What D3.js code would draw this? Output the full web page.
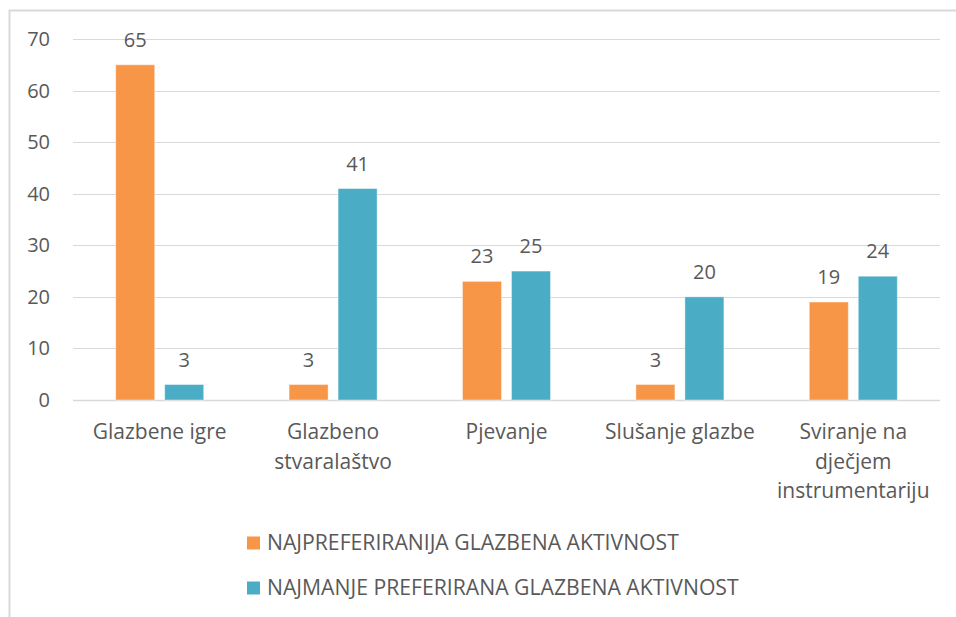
<!DOCTYPE html>
<html lang="hr">
<head>
  <meta charset="UTF-8">
  <title>Glazbene aktivnosti</title>
  <style>
    body { margin: 0; background: #fff; }
    svg text { font-family: "Open Sans", sans-serif; fill: #595959; }
  </style>
</head>
<body>
  <div id="chart"></div>

  <script src="https://d3js.org/d3.v7.min.js"></script>
  <script>
    // podaci
    const categories = [
      "Glazbene igre",
      "Glazbeno stvaralaštvo",
      "Pjevanje",
      "Slušanje glazbe",
      "Sviranje na dječjem instrumentariju"
    ];
    // prijelomi redaka kao na slici
    const categoryLines = [
      ["Glazbene igre"],
      ["Glazbeno", "stvaralaštvo"],
      ["Pjevanje"],
      ["Slušanje glazbe"],
      ["Sviranje na", "dječjem", "instrumentariju"]
    ];
    const seriesNames = [
      "NAJPREFERIRANIJA GLAZBENA AKTIVNOST",
      "NAJMANJE PREFERIRANA GLAZBENA AKTIVNOST"
    ];
    const mostPreferred = [65, 3, 23, 3, 19];
    const leastPreferred = [3, 41, 25, 20, 24];
    const yTicks = [0, 10, 20, 30, 40, 50, 60, 70];
    const colors = ["#F79646", "#4BACC6"];

    const W = 956, H = 617;
    const svg = d3.select("#chart").append("svg")
      .attr("width", W)
      .attr("height", H);

    // okvir grafikona
    svg.append("rect")
      .attr("x", 9.5).attr("y", 10.5)
      .attr("width", W + 10).attr("height", H + 10)
      .attr("fill", "none")
      .attr("stroke", "#d9d9d9")
      .attr("stroke-width", 2);

    const x0 = d3.scaleBand().domain(categories).range([73, 940]);
    const x1 = d3.scaleBand().domain([0, 1])
      .range([x0.bandwidth() / 2 - 44, x0.bandwidth() / 2 + 44])
      .paddingInner(0.204);
    const y = d3.scaleLinear().domain([0, 70]).range([400, 39]);

    // mreža
    svg.append("g").selectAll("line")
      .data(yTicks)
      .enter().append("line")
      .attr("x1", 73).attr("x2", 940)
      .attr("y1", d => Math.round(y(d)) + 0.5)
      .attr("y2", d => Math.round(y(d)) + 0.5)
      .attr("stroke", "#d9d9d9")
      .attr("stroke-width", d => d === 0 ? 1.5 : 1);

    // oznake osi Y
    svg.append("g").selectAll("text")
      .data(yTicks)
      .enter().append("text")
      .attr("x", 50)
      .attr("y", d => y(d))
      .attr("dy", "0.35em")
      .attr("text-anchor", "end")
      .style("font-size", "20px")
      .text(d => d);

    const rows = categories.map((c, i) => ({ cat: c, vals: [mostPreferred[i], leastPreferred[i]] }));

    const groups = svg.append("g").selectAll("g")
      .data(rows)
      .enter().append("g")
      .attr("transform", d => `translate(${x0(d.cat)},0)`);

    groups.selectAll("rect")
      .data(d => d.vals.map((v, s) => ({ v, s })))
      .enter().append("rect")
      .attr("x", d => x1(d.s))
      .attr("y", d => y(d.v))
      .attr("width", x1.bandwidth())
      .attr("height", d => y(0) - y(d.v))
      .attr("fill", d => colors[d.s])
      .attr("stroke", "#fff")
      .attr("stroke-opacity", 0.4)
      .attr("stroke-width", 1);

    groups.selectAll("text.val")
      .data(d => d.vals.map((v, s) => ({ v, s })))
      .enter().append("text")
      .attr("class", "val")
      .attr("x", d => x1(d.s) + x1.bandwidth() / 2)
      .attr("y", d => y(d.v) - 25)
      .attr("dy", "0.35em")
      .attr("text-anchor", "middle")
      .style("font-size", "20px")
      .text(d => d.v);

    // kategorije
    categories.forEach((c, i) => {
      const t = svg.append("text")
        .attr("text-anchor", "middle")
        .style("font-size", "21px");
      categoryLines[i].forEach((line, j) => {
        t.append("tspan")
          .attr("x", x0(c) + x0.bandwidth() / 2)
          .attr("y", 432 + j * 29.5)
          .attr("dy", "0.35em")
          .text(line);
      });
    });

    // legenda
    const legend = svg.append("g");
    seriesNames.forEach((name, i) => {
      const ly = 543 + i * 45;
      legend.append("rect")
        .attr("x", 247).attr("y", ly - 6.5)
        .attr("width", 13).attr("height", 13)
        .attr("fill", colors[i]);
      legend.append("text")
        .attr("x", 267).attr("y", ly)
        .attr("dy", "0.35em")
        .style("font-size", "21.2px")
        .text(name);
    });
  </script>
</body>
</html>
